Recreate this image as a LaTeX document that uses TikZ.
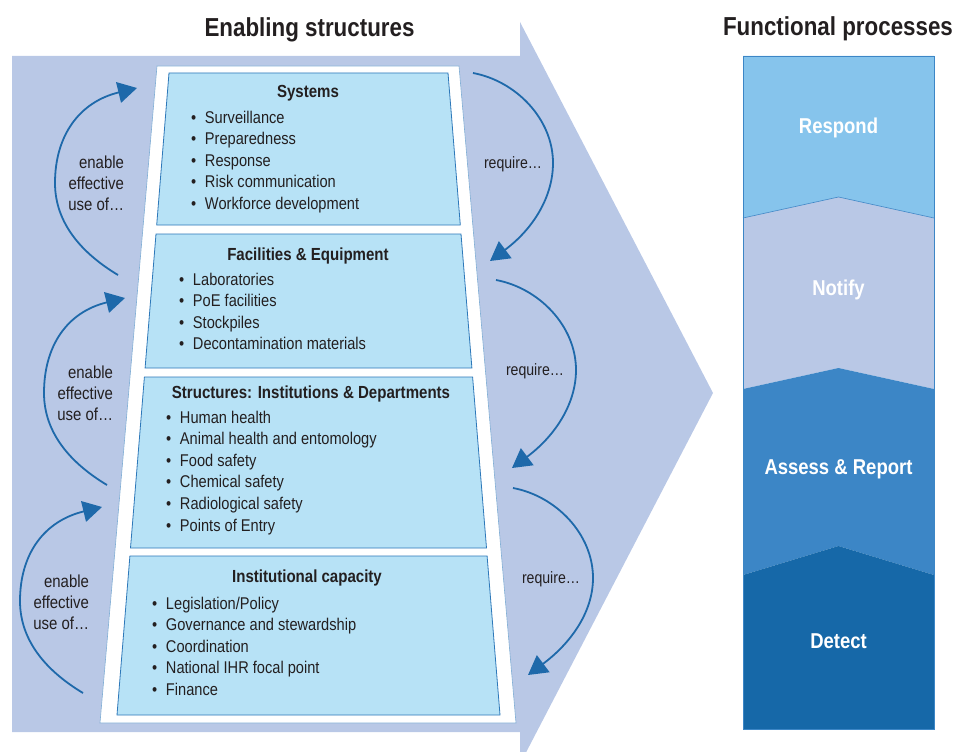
\documentclass[tikz,border=0pt]{standalone}
\usepackage{fontspec}
\setmainfont{Liberation Sans}[FakeStretch=0.86]
\usetikzlibrary{arrows.meta,calc}
\definecolor{bgarrow}{RGB}{185,200,230}
\definecolor{boxfill}{RGB}{183,226,246}
\definecolor{boxline}{RGB}{45,120,185}
\definecolor{arccol}{RGB}{30,105,170}
\definecolor{txt}{RGB}{35,31,32}
\definecolor{respond}{RGB}{134,196,236}
\definecolor{notify}{RGB}{185,200,230}
\definecolor{assess}{RGB}{60,134,198}
\definecolor{detect}{RGB}{22,104,168}
\newcommand\myleftarc[2]{\draw[arcline] (#1) .. controls ($(#1)+(-35,-21)$) and ($(#1)+(-63,-51)$) .. ($(#1)+(-63,-92)$) .. controls ($(#1)+(-63,-139)$) and ($(#2)+(-58,14)$) .. (#2);}
\newcommand\myrightarc[2]{\draw[arcline] (#1) .. controls ($(#1)+(43,8)$) and ($(#1)+(80,46)$) .. ($(#1)+(80,90)$) .. controls ($(#1)+(80,124)$) and ($(#2)+(43,-32)$) .. (#2);}
\newcommand\myitems[4]{\foreach \t [count=\i] in {#4} \node[item] (#1\i) at (#2,{#3+21.6*(\i-1)}) {\makebox[14pt][l]{\textbullet}\t};}
\newcommand\mysidetext[3]{\foreach \t [count=\i] in {enable,effective,use of…} \node[side] (#1\i) at (#2,{#3+21.4*(\i-1)}) {\t};}
\begin{document}
\begin{tikzpicture}[x=1pt,y=-1pt,
 every node/.style={inner sep=0pt, outer sep=0pt, text=txt},
 item/.style={anchor=base west, font=\fontsize{17}{20}\selectfont},
 boxtitle/.style={anchor=base, font=\bfseries\fontsize{17.5}{20}\selectfont},
 header/.style={anchor=base, font=\bfseries\fontsize{26}{30}\selectfont},
 side/.style={anchor=base east, font=\fontsize{17.4}{20}\selectfont},
 req/.style={anchor=base, font=\fontsize{16.4}{20}\selectfont},
 proc/.style={anchor=base, text=white, font=\bfseries\fontsize{21.5}{25}\selectfont},
 arcline/.style={draw=arccol, line width=1.8pt, -{Triangle[length=19pt,width=21pt]}},
 layer/.style={fill=boxfill, draw=boxline, line width=0.8pt},
]
\useasboundingbox (0,0) rectangle (956,752);
\begin{scope}
\clip (0,0) rectangle (956,752);
\fill[bgarrow] (12,56) -- (520,56) -- (520,22) -- (713,393) -- (520,764) -- (520,732) -- (12,732) -- cycle;
\end{scope}
% white trapezoid
\filldraw[fill=white, draw=boxline!60, line width=0.6pt] (157,66) -- (459,66) -- (516,723) -- (100,723) -- cycle;
% layers
\filldraw[layer] (169,73) -- (448,73) -- (460.3,225) -- (156.7,225) -- cycle;
\filldraw[layer] (156,234) -- (461,234) -- (471.9,368) -- (145.1,368) -- cycle;
\filldraw[layer] (144.4,377) -- (472.6,377) -- (486.5,548) -- (130.5,548) -- cycle;
\filldraw[layer] (129.9,556) -- (487.1,556) -- (500,715) -- (117,715) -- cycle;
% headers
\node[header] (h1) at (309.5,37) {Enabling structures};
\node[header] (h2) at (838,36) {Functional processes};
% titles
\node[boxtitle] (t1) at (308,97) {Systems};
\node[boxtitle] (t2) at (308,260) {Facilities \& Equipment};
\node[boxtitle] (t3) at (311,398) {Structures: Institutions \& Departments};
\node[boxtitle] (t4) at (307,582) {Institutional capacity};
% items
\myitems{a}{191}{123}{Surveillance,Preparedness,Response,Risk communication,Workforce development}
\myitems{b}{179}{285}{Laboratories,PoE facilities,Stockpiles,Decontamination materials}
\myitems{c}{166}{423}{Human health,Animal health and entomology,Food safety,Chemical safety,Radiological safety,Points of Entry}
\myitems{d}{152}{609}{Legislation/Policy,Governance and stewardship,Coordination,National IHR focal point,Finance}
% side labels
\mysidetext{e}{124}{168}
\mysidetext{f}{113}{378}
\mysidetext{g}{89}{587}
\node[req] (r1) at (513,168) {require…};
\node[req] (r2) at (535,375) {require…};
\node[req] (r3) at (551,583) {require…};
% arcs
\coordinate (ls1) at (118,275); \coordinate (le1) at (137,88);
\coordinate (ls2) at (107,485); \coordinate (le2) at (125,298);
\coordinate (ls3) at (83,693);  \coordinate (le3) at (102,507);
\coordinate (rs1) at (473,73);  \coordinate (re1) at (490,261);
\coordinate (rs2) at (496,280); \coordinate (re2) at (512,468);
\coordinate (rs3) at (513,488); \coordinate (re3) at (528,675);
\myleftarc{ls1}{le1}
\myleftarc{ls2}{le2}
\myleftarc{ls3}{le3}
\myrightarc{rs1}{re1}
\myrightarc{rs2}{re2}
\myrightarc{rs3}{re3}
% process column
\fill[respond] (743,56) -- (934,56) -- (934,218) -- (838.5,197) -- (743,218) -- cycle;
\fill[notify] (743,218) -- (838.5,197) -- (934,218) -- (934,389) -- (838.5,368) -- (743,389) -- cycle;
\fill[assess] (743,389) -- (838.5,368) -- (934,389) -- (934,575) -- (838.5,546) -- (743,575) -- cycle;
\fill[detect] (743,575) -- (838.5,546) -- (934,575) -- (934,729) -- (743,729) -- cycle;
\draw[assess, line width=0.6pt] (743,218) -- (838.5,197) -- (934,218);
\draw[assess, line width=0.8pt] (743,56) rectangle (934,729);
\node[proc] (p1) at (838.5,133) {Respond};
\node[proc] (p2) at (838.5,295) {Notify};
\node[proc] (p3) at (838.5,474) {Assess \& Report};
\node[proc] (p4) at (838.5,648) {Detect};
\end{tikzpicture}
\end{document}
